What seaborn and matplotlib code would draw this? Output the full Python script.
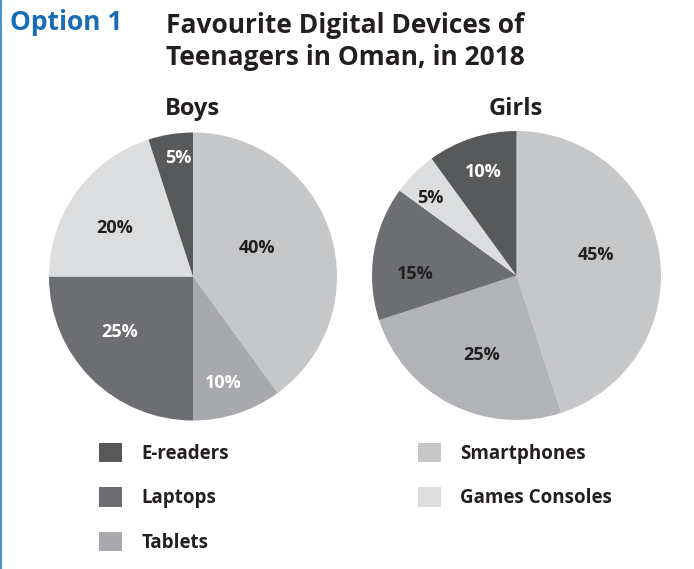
import numpy as np
import matplotlib
matplotlib.use("Agg")
import matplotlib.pyplot as plt
import seaborn as sns

sns.set_theme(style="white")
plt.rcParams["font.family"] = ["Open Sans", "DejaVu Sans"]
plt.rcParams["font.weight"] = "bold"

# Survey data: share of teenagers naming each device as favourite
devices = ["Smartphones", "Tablets", "Laptops", "Games Consoles", "E-readers"]
boys = [40, 10, 25, 20, 5]
girls = [45, 25, 15, 5, 10]

legend_left = ["E-readers", "Laptops", "Tablets"]
legend_right = ["Smartphones", "Games Consoles"]

palette = dict(zip(devices, sns.color_palette(
    ["#c6c7c9", "#a7a9ac", "#6d6e71", "#dcddde", "#58595b"])))
girls_palette = dict(palette, Tablets=sns.desaturate("#b1b3b6", 1.0))

W, H = 694, 569
fig = plt.figure(figsize=(W / 100, H / 100), dpi=100)
fig.patch.set_facecolor("white")

DARK = "#231f20"


def fx(x):
    return x / W


def fy(y):
    return 1 - y / H


def px_axes(cx, cy, r):
    return fig.add_axes([(cx - r) / W, (H - cy - r) / H, 2 * r / W, 2 * r / H])


def draw_pie(ax, values, pal, label_colors, label_pos):
    colors = [pal[d] for d in devices]
    wedges, texts, autotexts = ax.pie(
        values, colors=colors, startangle=90, counterclock=False,
        autopct=lambda p: f"{p:.0f}%", pctdistance=0.6, radius=1.0,
        wedgeprops=dict(linewidth=0),
        textprops=dict(fontsize=13, fontweight="bold"))
    # per-label radial distance and angular nudge (degrees, clockwise)
    for w, t, c, (d, nudge) in zip(wedges, autotexts, label_colors, label_pos):
        ang = np.deg2rad((w.theta1 + w.theta2) / 2 - nudge)
        t.set_position((d * np.cos(ang), d * np.sin(ang)))
        t.set_color(c)
    ax.set_xlim(-1, 1)
    ax.set_ylim(-1, 1)
    ax.set_aspect("equal")
    ax.axis("off")
    return wedges


ax_b = px_axes(193, 276.5, 144)
wb = draw_pie(ax_b, boys, palette,
              [DARK, "white", "white", DARK, "white"],
              [(0.49, -6), (0.77, 2), (0.64, 8), (0.64, -4), (0.83, 2)])

ax_g = px_axes(516.5, 275.5, 144.5)
wg = draw_pie(ax_g, girls, girls_palette,
              [DARK, DARK, DARK, DARK, "white"],
              [(0.57, -5.5), (0.6, -3.5), (0.7, -8), (0.8, -3), (0.75, 0)])

fig.text(fx(192), fy(115), "Boys", fontsize=17, fontweight="bold",
         color=DARK, ha="center", va="baseline")
fig.text(fx(516), fy(115), "Girls", fontsize=17, fontweight="bold",
         color=DARK, ha="center", va="baseline")

handles = dict(zip(devices, wb))
leg_kw = dict(frameon=False, fontsize=13.5, handlelength=1.2, handleheight=1.2,
              handletextpad=1.05, labelspacing=1.25, borderpad=0,
              borderaxespad=0, loc="upper left")
leg1 = fig.legend([handles[d] for d in legend_left], legend_left,
                  bbox_to_anchor=(fx(99), fy(443)), **leg_kw)
leg2 = fig.legend([handles[d] for d in legend_right], legend_right,
                  bbox_to_anchor=(fx(418), fy(443)), **leg_kw)
for leg in (leg1, leg2):
    for t in leg.get_texts():
        t.set_color(DARK)
        t.set_fontweight("bold")

fig.text(fx(10), fy(30), "Option 1", fontsize=19, fontweight="bold",
         color="#1a6cb4", va="baseline", ha="left")
fig.text(fx(166), fy(33), "Favourite Digital Devices of",
         fontsize=19, fontweight="bold", color=DARK, va="baseline", ha="left")
fig.text(fx(166), fy(65), "Teenagers in Oman, in 2018",
         fontsize=19, fontweight="bold", color=DARK, va="baseline", ha="left")

# thin blue rule down the left edge
fig.add_artist(plt.Line2D([fx(1), fx(1)], [0, 1], transform=fig.transFigure,
                          color="#4a92cc", linewidth=1.5))

fig.savefig("out.png", dpi=100, facecolor="white")
